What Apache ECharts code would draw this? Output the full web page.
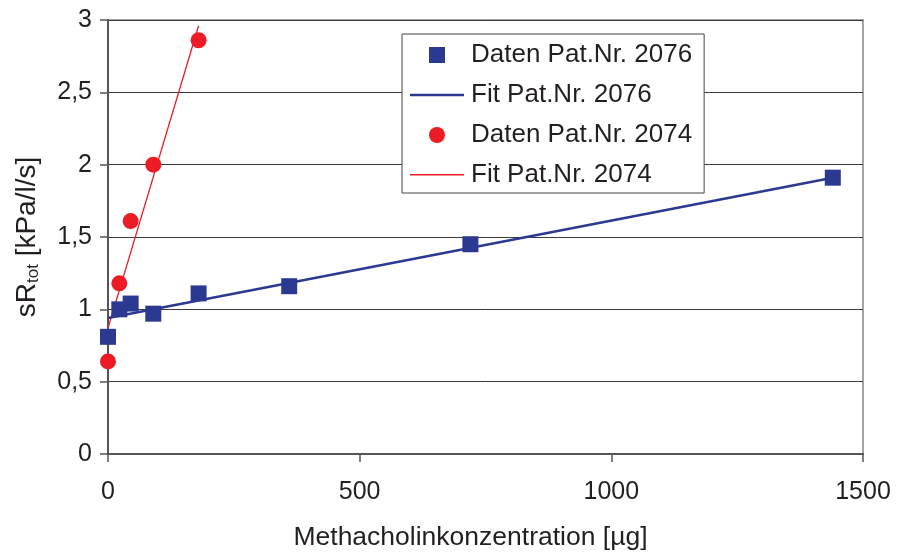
<!DOCTYPE html>
<html>
<head>
<meta charset="utf-8">
<script src="https://cdn.jsdelivr.net/npm/echarts@6/dist/echarts.min.js"></script>
<style>html,body{margin:0;padding:0;background:#fff}#c{width:897px;height:554px}</style>
</head>
<body>
<div id="c"></div>
<script>
var doseX = [0, 22.5, 45, 90, 180, 360, 720, 1440];
var daten2076 = [0.81, 1.0, 1.04, 0.97, 1.11, 1.16, 1.45, 1.91];
var doseX2074 = [0, 22.5, 45, 90, 180];
var daten2074 = [0.64, 1.18, 1.61, 2.0, 2.86];
var fitX2076 = [0, 1440];
var fit2076 = [0.94, 1.91];
var fitX2074 = [0, 180];
var fit2074 = [0.87, 2.96];
var xTicks = [0, 500, 1000, 1500];
var yTicks = [0, 0.5, 1, 1.5, 2, 2.5, 3];

function pairs(xs, ys){ return xs.map(function(x,i){ return [x, ys[i]]; }); }

var BLUE = '#2B3990', RED = '#ED1C24', TXT = '#231f20';
var FONT = "'Liberation Sans', Arial, sans-serif";

var chart = echarts.init(document.getElementById('c'), null, {renderer:'canvas'});
chart.setOption({
  animation: false,
  backgroundColor: '#fff',
  grid: {left:108, right:34, top:20, bottom:100, containLabel:false, outerBoundsMode:'none',
         show:true, borderColor:'#a6a6a6', borderWidth:2, backgroundColor:'transparent'},
  xAxis: {
    type:'value', min:xTicks[0], max:xTicks[xTicks.length-1], interval:500,
    name:'Methacholinkonzentration [µg]', nameLocation:'middle', nameGap:70,
    nameTextStyle:{fontFamily:FONT, fontSize:26.5, color:TXT, padding:[0,30,0,0]},
    axisLine:{show:true, onZero:false, lineStyle:{color:'#555', width:2}},
    axisTick:{show:true, length:8, lineStyle:{color:'#555', width:1.5}},
    axisLabel:{fontFamily:FONT, fontSize:25, color:TXT, margin:26,
      formatter:function(v){ return String(v); }},
    splitLine:{show:false}
  },
  yAxis: {
    type:'value', min:yTicks[0], max:yTicks[yTicks.length-1], interval:0.5,
    name:'{a|sR}{b|tot}{a| [kPa/l/s]}', nameLocation:'middle', nameGap:66,
    nameTextStyle:{fontFamily:FONT, color:TXT,
      rich:{a:{fontFamily:FONT, fontSize:28, color:TXT, lineHeight:30},
            b:{fontFamily:FONT, fontSize:17, color:TXT, lineHeight:16, verticalAlign:'bottom'}}},
    axisLine:{show:true, lineStyle:{color:'#555', width:2}},
    axisTick:{show:true, length:8, lineStyle:{color:'#555', width:1.5}},
    axisLabel:{fontFamily:FONT, fontSize:25, color:TXT, margin:16,
      formatter:function(v){ return String(v).replace('.', ','); }},
    splitLine:{show:true, lineStyle:{color:'#3a3a3a', width:1}}
  },
  legend: {
    show:true, left:402, top:34, orient:'vertical',
    backgroundColor:'#fff', borderColor:'#444', borderWidth:1,
    padding:[8,12,5,8], itemGap:14, itemWidth:54, itemHeight:16,
    itemStyle:{borderWidth:0},
    textStyle:{fontFamily:FONT, fontSize:26, color:TXT, padding:[0,0,0,2]},
    data:[
      {name:'Daten Pat.Nr. 2076', icon:'path://M0,0M54,16M19,0h16v16h-16z'},
      {name:'Fit Pat.Nr. 2076', icon:'path://M0,0M54,16M0,6.75h54v2.5h-54z'},
      {name:'Daten Pat.Nr. 2074', icon:'circle'},
      {name:'Fit Pat.Nr. 2074', icon:'path://M0,0M54,16M0,7h54v1.4h-54z'}
    ]
  },
  series: [
    {name:'Fit Pat.Nr. 2074', type:'line', data:pairs(fitX2074, fit2074), symbol:'none', z:2,
     lineStyle:{color:RED, width:1.3}, itemStyle:{color:RED}},
    {name:'Daten Pat.Nr. 2074', type:'scatter', data:pairs(doseX2074, daten2074), symbol:'circle', symbolSize:16, z:3,
     itemStyle:{color:RED, opacity:1}},
    {name:'Fit Pat.Nr. 2076', type:'line', data:pairs(fitX2076, fit2076), symbol:'none', z:4,
     lineStyle:{color:BLUE, width:2.5}, itemStyle:{color:BLUE}},
    {name:'Daten Pat.Nr. 2076', type:'scatter', data:pairs(doseX, daten2076), symbol:'rect', symbolSize:16, z:5,
     itemStyle:{color:BLUE, opacity:1}}
  ]
});
</script>
</body>
</html>
